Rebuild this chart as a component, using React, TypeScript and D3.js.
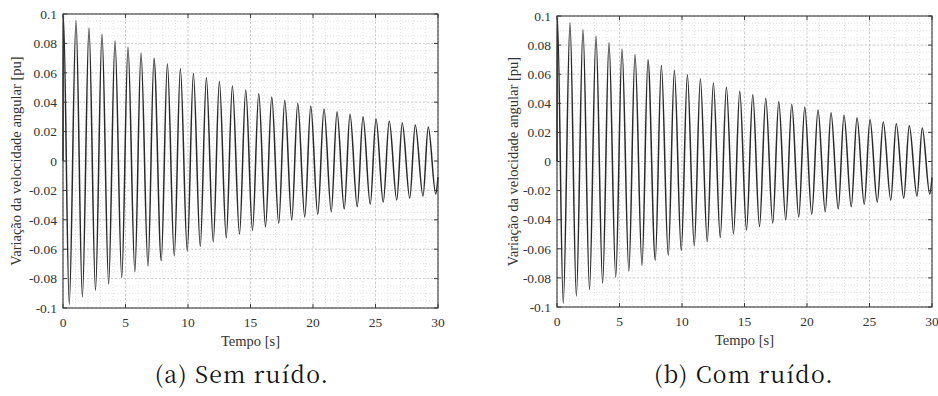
import React from "react";
import * as d3 from "d3";

// ---- Data ----
// Start of the record (time s, value pu)
const startTimes = [0, 0.03];
const startValues = [0, 0.099];
// Positive peaks
const peakTimes = [1.04, 2.08, 3.12, 4.16, 5.2, 6.24, 7.28, 8.35, 9.39, 10.43, 11.47, 12.51, 13.55, 14.62, 15.66, 16.7, 17.74, 18.78, 19.82, 20.88, 21.92, 22.96, 24.0, 25.04, 26.1, 27.14, 28.18, 29.22];
const peakValues = [0.0954, 0.0905, 0.0862, 0.0816, 0.0773, 0.0735, 0.0699, 0.0662, 0.0628, 0.0596, 0.0567, 0.054, 0.051, 0.0483, 0.0458, 0.0435, 0.0413, 0.0393, 0.0374, 0.0354, 0.0335, 0.0318, 0.0301, 0.0288, 0.0272, 0.0259, 0.0245, 0.0231];
// Negative troughs
const troughTimes = [0.5, 1.55, 2.6, 3.65, 4.7, 5.75, 6.8, 7.86, 8.9, 9.94, 10.98, 12.02, 13.06, 14.12, 15.16, 16.2, 17.26, 18.3, 19.34, 20.38, 21.46, 22.5, 23.54, 24.58, 25.62, 26.7, 27.74, 28.8, 29.82];
const troughValues = [-0.0975, -0.0925, -0.088, -0.0837, -0.0794, -0.0753, -0.0714, -0.0678, -0.0644, -0.0612, -0.058, -0.0551, -0.0522, -0.0497, -0.0471, -0.0447, -0.0424, -0.0401, -0.0381, -0.0363, -0.0345, -0.0327, -0.0311, -0.0295, -0.0279, -0.0265, -0.0252, -0.0238, -0.0224];
// End of the record
const endTimes = [30];
const endValues = [-0.011];

const xTicks = [0, 5, 10, 15, 20, 25, 30];
const yTicks = [-0.1, -0.08, -0.06, -0.04, -0.02, 0, 0.02, 0.04, 0.06, 0.08, 0.1];
const yTickLabels = ["-0.1", "-0.08", "-0.06", "-0.04", "-0.02", "0", "0.02", "0.04", "0.06", "0.08", "0.1"];
const xMinorStep = 1;
const yMinorStep = 0.005;

const xLabel = "Tempo [s]";
const yLabel = "Variação da velocidade angular [pu]";
const captions = ["(a) Sem ruído.", "(b) Com ruído."];

type Pt = { t: number; v: number };
const series: Pt[] = [
  ...startTimes.map((t, i) => ({ t, v: startValues[i] })),
  ...peakTimes.map((t, i) => ({ t, v: peakValues[i] })),
  ...troughTimes.map((t, i) => ({ t, v: troughValues[i] })),
  ...endTimes.map((t, i) => ({ t, v: endValues[i] })),
].sort((a, b) => a.t - b.t);

const FONT = "Liberation Serif, serif";
const CAPTION_FONT = "Noto Serif CJK SC, DejaVu Serif, serif";

function Panel({ left, top, right, bottom, ylabX, tickLabelX, caption, captionX }: any) {
  const x = d3.scaleLinear().domain([0, 30]).range([left, right]);
  const y = d3.scaleLinear().domain([-0.1, 0.1]).range([bottom, top]);
  const line = d3
    .line<Pt>()
    .x((d) => x(d.t))
    .y((d) => y(d.v))
    .curve(d3.curveMonotoneX);
  const xMinor = d3.range(0, 30 + 1e-9, xMinorStep);
  const yMinor = d3.range(-0.1, 0.1 + 1e-9, yMinorStep);
  const tl = 4;
  const cx = (left + right) / 2;
  const cy = (top + bottom) / 2;
  return (
    <g>
      <rect x={left} y={top} width={right - left} height={bottom - top} fill="#fff" />
      {xMinor.map((t, i) => (
        <line key={"xm" + i} x1={x(t)} x2={x(t)} y1={top} y2={bottom} stroke="#dcdcdc" strokeWidth={0.8} strokeDasharray="1,2" />
      ))}
      {yMinor.map((v, i) => (
        <line key={"ym" + i} y1={y(v)} y2={y(v)} x1={left} x2={right} stroke="#dcdcdc" strokeWidth={0.8} strokeDasharray="1,2" />
      ))}
      {xTicks.map((t, i) => (
        <line key={"xg" + i} x1={x(t)} x2={x(t)} y1={top} y2={bottom} stroke="#c4c4c4" strokeWidth={0.8} strokeDasharray="2,2" />
      ))}
      {yTicks.map((v, i) => (
        <line key={"yg" + i} y1={y(v)} y2={y(v)} x1={left} x2={right} stroke="#c4c4c4" strokeWidth={0.8} strokeDasharray="2,2" />
      ))}
      <path d={line(series) || ""} fill="none" stroke="#2a2a2a" strokeWidth={1.5} strokeLinejoin="round" />
      <rect x={left} y={top} width={right - left} height={bottom - top} fill="none" stroke="#3a3a3a" strokeWidth={1.1} />
      {xTicks.map((t, i) => (
        <g key={"xt" + i}>
          <line x1={x(t)} x2={x(t)} y1={bottom} y2={bottom - tl} stroke="#3a3a3a" />
          <line x1={x(t)} x2={x(t)} y1={top} y2={top + tl} stroke="#3a3a3a" />
          <text x={x(t)} y={bottom + 19} textAnchor="middle" fontFamily={FONT} fontSize={13.5} fill="#333">
            {t}
          </text>
        </g>
      ))}
      {yTicks.map((v, i) => (
        <g key={"yt" + i}>
          <line x1={left} x2={left + tl} y1={y(v)} y2={y(v)} stroke="#3a3a3a" />
          <line x1={right} x2={right - tl} y1={y(v)} y2={y(v)} stroke="#3a3a3a" />
          <text x={tickLabelX} y={y(v)} dy="0.35em" textAnchor="end" fontFamily={FONT} fontSize={13.5} fill="#333">
            {yTickLabels[i]}
          </text>
        </g>
      ))}
      <text x={cx} y={bottom + 38} textAnchor="middle" fontFamily={FONT} fontSize={14.5} fill="#333">
        {xLabel}
      </text>
      <text
        transform={`translate(${ylabX},${cy}) rotate(-90)`}
        textAnchor="middle"
        dy="0.35em"
        fontFamily={FONT}
        fontSize={14.5}
        fill="#333"
      >
        {yLabel}
      </text>
      <text x={captionX} y={383} textAnchor="middle" fontFamily={CAPTION_FONT} fontSize={23} letterSpacing={1.2} fill="#111">
        {caption}
      </text>
    </g>
  );
}

export default function App() {
  return (
    <div style={{ position: "absolute", left: 0, top: 0 }}>
      <svg width={938} height={396} style={{ display: "block", background: "#fff" }}>
        <Panel left={63} top={14} right={438} bottom={308} ylabX={16} tickLabelX={57} caption={captions[0]} captionX={242} />
        <Panel left={557} top={16} right={932} bottom={307} ylabX={513} tickLabelX={551} caption={captions[1]} captionX={744} />
      </svg>
    </div>
  );
}
